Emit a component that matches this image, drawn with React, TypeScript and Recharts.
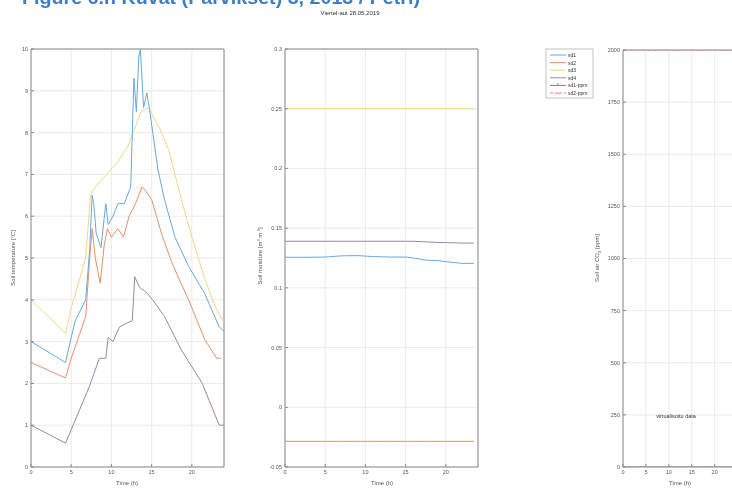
import React from 'react';
import { LineChart, Line, XAxis, YAxis, CartesianGrid, ReferenceLine } from 'recharts';

// ---------- data ----------
const timeTicks = [0, 5, 10, 15, 20];
const tempTicks = [0, 1, 2, 3, 4, 5, 6, 7, 8, 9, 10];
const moistTicks = [-0.05, 0, 0.05, 0.1, 0.15, 0.2, 0.25, 0.3];
const co2Ticks = [0, 250, 500, 750, 1000, 1250, 1500, 1750, 2000];

const seriesNames = ['sd1', 'sd2', 'sd3', 'sd4', 'sd1-ppm', 'sd2-ppm'];

// soil temperature
const sd1TempT = [0, 4.3, 5.0, 5.5, 6.8, 7.3, 7.6, 7.8, 8.1, 8.7, 9.3, 9.6, 10.2, 10.8, 11.6, 12.4, 12.8, 13.1, 13.4, 13.6, 14.0, 14.4, 14.7, 15.8, 16.6, 17.9, 19.6, 21.6, 23.4, 24];
const sd1TempV = [3.0, 2.5, 3.1, 3.5, 4.0, 5.2, 6.5, 6.3, 5.6, 5.25, 6.3, 5.8, 6.0, 6.3, 6.3, 6.7, 9.3, 8.5, 9.8, 10.0, 8.6, 8.95, 8.6, 7.1, 6.4, 5.5, 4.8, 4.15, 3.35, 3.25];
const sd2TempT = [0, 4.3, 5.0, 6.8, 7.3, 7.6, 8.0, 8.6, 9.1, 9.5, 10.0, 10.8, 11.5, 12.2, 13.0, 13.8, 14.3, 15.0, 16.2, 17.5, 18.4, 19.6, 21.6, 23.1, 23.6];
const sd2TempV = [2.5, 2.13, 2.6, 3.6, 5.0, 5.7, 5.0, 4.4, 5.3, 5.7, 5.5, 5.7, 5.5, 6.0, 6.3, 6.7, 6.6, 6.4, 5.6, 4.9, 4.5, 4.0, 3.05, 2.6, 2.6];
const sd3TempT = [0, 4.3, 5.0, 6.8, 7.4, 8.0, 8.7, 10.8, 12.1, 13.7, 14.6, 16.0, 17.1, 18.7, 20.0, 21.6, 23.0, 24];
const sd3TempV = [4.0, 3.2, 3.8, 5.0, 6.5, 6.7, 6.85, 7.3, 7.7, 8.5, 8.6, 8.1, 7.6, 6.4, 5.5, 4.5, 3.8, 3.45];
const sd4TempT = [0, 4.3, 7.2, 8.5, 9.3, 9.6, 10.2, 11.0, 12.0, 12.6, 12.9, 13.5, 14.5, 15.5, 16.6, 18.7, 21.3, 23.4, 24];
const sd4TempV = [1.0, 0.57, 1.9, 2.6, 2.6, 3.1, 3.0, 3.35, 3.45, 3.5, 4.55, 4.3, 4.15, 3.9, 3.6, 2.8, 2.0, 1.0, 1.0];

// soil moisture
const moistT = [0, 3, 5, 7, 9, 11, 13, 15, 16, 17.5, 19, 20.5, 22, 23.5];
const sd1Moist = [0.1256, 0.1256, 0.1258, 0.1268, 0.127, 0.1262, 0.1258, 0.1258, 0.125, 0.1232, 0.1228, 0.1215, 0.1205, 0.1205];
const sd2Moist = [-0.0285, -0.0285, -0.0285, -0.0285, -0.0285, -0.0285, -0.0285, -0.0285, -0.0285, -0.0285, -0.0285, -0.0285, -0.0285, -0.0285];
const sd3Moist = [0.25, 0.25, 0.25, 0.25, 0.25, 0.25, 0.25, 0.25, 0.25, 0.25, 0.25, 0.25, 0.25, 0.25];
const sd4Moist = [0.139, 0.139, 0.139, 0.139, 0.139, 0.139, 0.139, 0.139, 0.139, 0.1385, 0.138, 0.1378, 0.1375, 0.1375];

// soil air CO2
const co2T = [0, 2, 4, 6, 8, 10, 12, 14, 16, 18, 20, 22, 24];
const ppm1 = [0, 0, 0, 0, 0, 0, 0, 0, 0, 0, 0, 0, 0];
const ppm2 = [2000, 2000, 2000, 2000, 2000, 2000, 2000, 2000, 2000, 2000, 2000, 2000, 2000];

// ---------- styling ----------
const FONT = '"Liberation Sans", Arial, sans-serif';
const C_BLUE = '#6aa8d8';
const C_ORANGE = '#e6906a';
const C_YELLOW = '#f2d58c';
const C_PURPLE = '#9a86a8';
const C_PPM1 = '#7d6fd6';
const C_PPM2 = '#f07a92';
const AXIS = '#8a8a8a';
const GRID = '#e6e6e6';
const TXT = '#555';

const pts = (t: number[], v: number[]) => t.map((x, i) => ({ t: x, v: v[i] }));

const tickStyle = { fontSize: 5.5, fill: TXT, fontFamily: FONT };

function axes(yTicks: number[], yDomain: [number, number], yWidth: number, fmt: (v: number) => string) {
  return [
    <CartesianGrid key="g" xAxisId="b" yAxisId="l" stroke={GRID} strokeWidth={0.8} />,
    <XAxis key="xb" xAxisId="b" dataKey="t" type="number" domain={[0, 24]} ticks={timeTicks} allowDataOverflow
      height={24} tickSize={-3} tickMargin={6} stroke={AXIS} tick={tickStyle} interval={0} />,
    <YAxis key="yl" yAxisId="l" type="number" domain={yDomain} ticks={yTicks} allowDataOverflow
      width={yWidth} tickSize={-3} tickMargin={6} stroke={AXIS} tick={tickStyle} interval={0} tickFormatter={fmt} />,
    <ReferenceLine key="rt" xAxisId="b" yAxisId="l" y={yDomain[1]} stroke={AXIS} strokeWidth={1} ifOverflow="extendDomain" />,
    <ReferenceLine key="rr" xAxisId="b" yAxisId="l" x={24} stroke={AXIS} strokeWidth={1} ifOverflow="extendDomain" />,
  ];
}

const fmtNum = (v: number) => String(Math.round(v * 100) / 100);

export default function App() {
  const lineProps = { xAxisId: 'b', yAxisId: 'l', dataKey: 'v', dot: false, isAnimationActive: false, strokeWidth: 1 } as const;
  return (
    <div style={{ position: 'absolute', left: 0, top: 0, width: 732, height: 491, overflow: 'hidden', background: '#fff', fontFamily: FONT }}>
      <div style={{ position: 'absolute', left: 0, top: 0, width: 732, height: 491, filter: 'blur(0.45px)' }}>
        <div style={{ position: 'absolute', left: 0, top: 0 }}>
          <LineChart width={240} height={491} margin={{ top: 49, right: 16, bottom: 0, left: 0 }}>
            {axes(tempTicks, [0, 10], 31, fmtNum)}
            <Line {...lineProps} data={pts(sd3TempT, sd3TempV)} stroke={C_YELLOW} />
            <Line {...lineProps} data={pts(sd4TempT, sd4TempV)} stroke={C_PURPLE} />
            <Line {...lineProps} data={pts(sd2TempT, sd2TempV)} stroke={C_ORANGE} />
            <Line {...lineProps} data={pts(sd1TempT, sd1TempV)} stroke={C_BLUE} />
          </LineChart>
        </div>
        <div style={{ position: 'absolute', left: 250, top: 0 }}>
          <LineChart width={250} height={491} margin={{ top: 49, right: 22, bottom: 0, left: 0 }}>
            {axes(moistTicks, [-0.05, 0.3], 35, fmtNum)}
            <Line {...lineProps} data={pts(moistT, sd3Moist)} stroke={C_YELLOW} />
            <Line {...lineProps} data={pts(moistT, sd4Moist)} stroke={C_PURPLE} />
            <Line {...lineProps} data={pts(moistT, sd1Moist)} stroke={C_BLUE} />
            <Line {...lineProps} data={pts(moistT, sd2Moist)} stroke={C_ORANGE} />
          </LineChart>
        </div>
        <div style={{ position: 'absolute', left: 590, top: 0 }}>
          <LineChart width={150} height={491} margin={{ top: 50, right: 7, bottom: 0, left: 0 }}>
            {axes(co2Ticks, [0, 2000], 33, fmtNum)}
            <Line {...lineProps} data={pts(co2T, ppm1)} stroke={C_PPM1} />
            <Line {...lineProps} data={pts(co2T, ppm2)} stroke={C_PPM2} strokeDasharray="4 2" />
          </LineChart>
        </div>
        <svg width={732} height={491} style={{ position: 'absolute', left: 0, top: 0, pointerEvents: 'none' }}>
          <text x={22} y={4} fontSize={18} fontWeight="bold" fill="#3f7ec4" fontFamily={FONT} textLength={398} lengthAdjust="spacingAndGlyphs">
            Figure 6.n Kuvat (Parvikset) 3, 2013 / Petri)
          </text>
          <text x={350} y={15} fontSize={6} fill="#333" textAnchor="middle" fontFamily={FONT}>Viertel-aut 28.05.2019</text>
          <text transform="translate(15,258) rotate(-90)" fontSize={6} fill={TXT} textAnchor="middle" fontFamily={FONT}>Soil temperature [°C]</text>
          <text transform="translate(262,256) rotate(-90)" fontSize={6} fill={TXT} textAnchor="middle" fontFamily={FONT}>
            Soil moisture [m<tspan dy={-2} fontSize={4}>3</tspan><tspan dy={2}> m</tspan><tspan dy={-2} fontSize={4}>-3</tspan><tspan dy={2}>]</tspan>
          </text>
          <text transform="translate(599,258) rotate(-90)" fontSize={6} fill={TXT} textAnchor="middle" fontFamily={FONT}>
            Soil air CO<tspan dy={2} fontSize={4}>2</tspan><tspan dy={-2}> [ppm]</tspan>
          </text>
          <text x={127} y={485} fontSize={6} fill={TXT} textAnchor="middle" fontFamily={FONT}>Time (h)</text>
          <text x={382} y={485} fontSize={6} fill={TXT} textAnchor="middle" fontFamily={FONT}>Time (h)</text>
          <text x={680} y={485} fontSize={6} fill={TXT} textAnchor="middle" fontFamily={FONT}>Time (h)</text>
          <text x={676} y={418} fontSize={5.5} fill="#333" textAnchor="middle" fontFamily={FONT}>virtualisoitu data</text>
          <rect x={546} y={49} width={47} height={49} fill="#fff" stroke="#999" strokeWidth={0.6} />
          {seriesNames.map((n, i) => {
            const y = 55 + i * 7.6;
            const cols = [C_BLUE, C_ORANGE, C_YELLOW, C_PURPLE, C_PPM1, C_PPM2];
            return (
              <g key={n}>
                <line x1={550} x2={566} y1={y} y2={y} stroke={cols[i]} strokeWidth={1} strokeDasharray={i === 5 ? '3 1.5' : undefined} />
                {i === 4 && <text x={558} y={y + 2} fontSize={6} fill={cols[i]} textAnchor="middle">*</text>}
                {i === 5 && <text x={558} y={y + 2} fontSize={6} fill={cols[i]} textAnchor="middle">+</text>}
                <text x={568} y={y + 2} fontSize={5} fill="#333" fontFamily={FONT}>{n}</text>
              </g>
            );
          })}
        </svg>
      </div>
    </div>
  );
}
